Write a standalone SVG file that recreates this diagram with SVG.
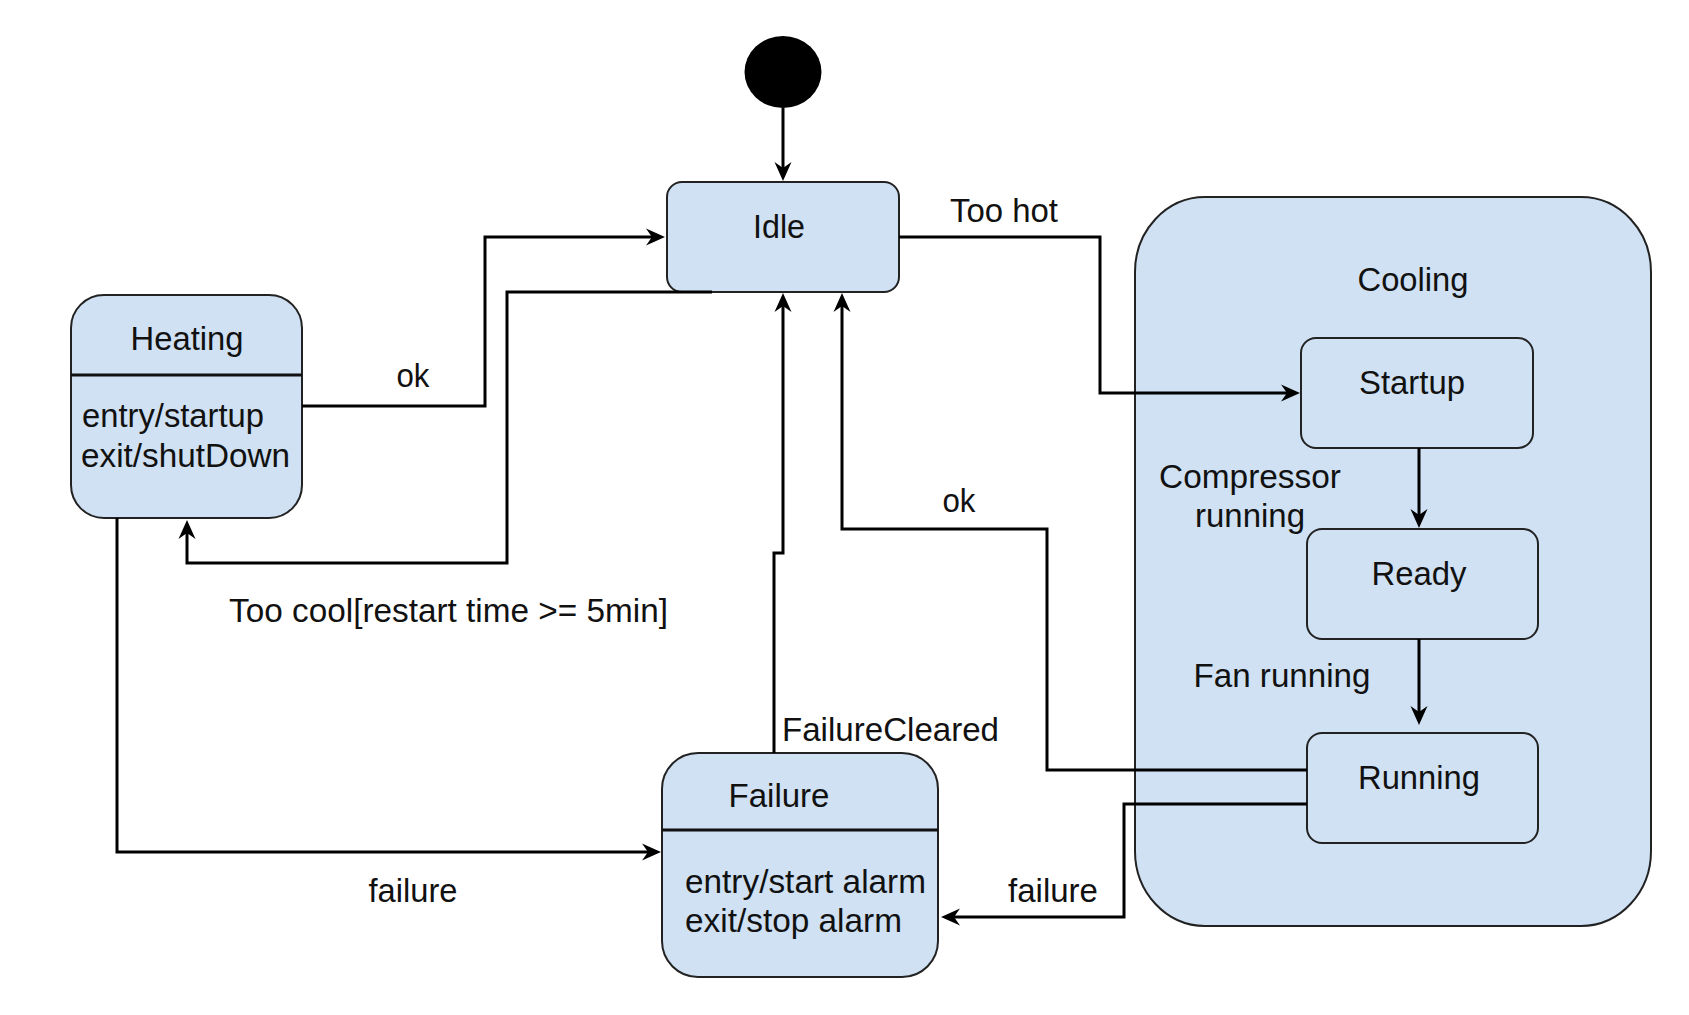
<svg xmlns="http://www.w3.org/2000/svg" width="1689" height="1015" viewBox="0 0 1689 1015">
  <style>
    .state { fill: #cfe1f3; stroke: #222; stroke-width: 2; }
    .div { stroke: #111; stroke-width: 3; }
    .conn { fill: none; stroke: #000; stroke-width: 3; stroke-linejoin: miter; marker-end: url(#arr); }
    text { font-family: "Liberation Sans", Arial, sans-serif; font-size: 33px; fill: #111; }
    .mid { text-anchor: middle; }
  </style>
  <defs>
    <marker id="arr" markerUnits="userSpaceOnUse" viewBox="-21 -10 23 20" markerWidth="23" markerHeight="20" refX="-6" refY="0" orient="auto">
      <path d="M0,0 L-19,-8.5 L-13,0 L-19,8.5 Z" fill="#000"/>
    </marker>
  </defs>
  <rect width="1689" height="1015" fill="#fff"/>

  <g id="cooling">
    <rect class="state" x="1135" y="197" width="516" height="729" rx="70" ry="75"/>
    <text class="mid" x="1413" y="291" textLength="111" lengthAdjust="spacingAndGlyphs">Cooling</text>
  </g>

  <g id="initial">
    <ellipse cx="783" cy="72" rx="38.5" ry="36" fill="#000"/>
  </g>

  <g id="idle">
    <rect class="state" x="667" y="182" width="232" height="110" rx="15"/>
    <text class="mid" x="779" y="238" textLength="52" lengthAdjust="spacingAndGlyphs">Idle</text>
  </g>

  <g id="heating">
    <rect class="state" x="71" y="295" width="231" height="223" rx="33"/>
    <line class="div" x1="71" y1="375" x2="302" y2="375"/>
    <text class="mid" x="187" y="350" textLength="113" lengthAdjust="spacingAndGlyphs">Heating</text>
    <text x="82" y="427" textLength="182" lengthAdjust="spacingAndGlyphs">entry/startup</text>
    <text x="81" y="467" textLength="209" lengthAdjust="spacingAndGlyphs">exit/shutDown</text>
  </g>

  <g id="failure">
    <rect class="state" x="662" y="753" width="276" height="224" rx="36"/>
    <line class="div" x1="662" y1="830" x2="938" y2="830"/>
    <text class="mid" x="779" y="807" textLength="101" lengthAdjust="spacingAndGlyphs">Failure</text>
    <text x="685" y="893" textLength="241" lengthAdjust="spacingAndGlyphs">entry/start alarm</text>
    <text x="685" y="932" textLength="217" lengthAdjust="spacingAndGlyphs">exit/stop alarm</text>
  </g>

  <g id="startup">
    <rect class="state" x="1301" y="338" width="232" height="110" rx="15"/>
    <text class="mid" x="1412" y="394" textLength="106" lengthAdjust="spacingAndGlyphs">Startup</text>
  </g>

  <g id="ready">
    <rect class="state" x="1307" y="529" width="231" height="110" rx="15"/>
    <text class="mid" x="1419" y="585" textLength="95" lengthAdjust="spacingAndGlyphs">Ready</text>
  </g>

  <g id="running">
    <rect class="state" x="1307" y="733" width="231" height="110" rx="15"/>
    <text class="mid" x="1419" y="789" textLength="122" lengthAdjust="spacingAndGlyphs">Running</text>
  </g>

  <g id="connectors">
    <path class="conn" d="M783,108 V175"/>
    <path class="conn" d="M302,406 H485 V237 H659"/>
    <path class="conn" d="M712,292 H507 V563 H187 V526"/>
    <path class="conn" d="M899,237 H1100 V393 H1294"/>
    <path class="conn" d="M1419,448 V522"/>
    <path class="conn" d="M1419,639 V719"/>
    <path class="conn" d="M1307,770 H1047 V529 H842 V299"/>
    <path class="conn" d="M1307,804 H1124 V917 H947"/>
    <path class="conn" d="M117,518 V852 H655"/>
    <path class="conn" d="M774,753 V553 H783 V299"/>
  </g>

  <g id="labels">
    <text class="mid" x="1004" y="222" textLength="108" lengthAdjust="spacingAndGlyphs">Too hot</text>
    <text class="mid" x="413" y="387" textLength="33" lengthAdjust="spacingAndGlyphs">ok</text>
    <text x="229" y="622" textLength="439" lengthAdjust="spacingAndGlyphs">Too cool[restart time &gt;= 5min]</text>
    <text class="mid" x="959" y="512" textLength="33" lengthAdjust="spacingAndGlyphs">ok</text>
    <text class="mid" x="1250" y="488" textLength="182" lengthAdjust="spacingAndGlyphs">Compressor</text>
    <text class="mid" x="1250" y="527" textLength="110" lengthAdjust="spacingAndGlyphs">running</text>
    <text class="mid" x="1282" y="687" textLength="177" lengthAdjust="spacingAndGlyphs">Fan running</text>
    <text x="782" y="741" textLength="217" lengthAdjust="spacingAndGlyphs">FailureCleared</text>
    <text class="mid" x="413" y="902" textLength="89" lengthAdjust="spacingAndGlyphs">failure</text>
    <text class="mid" x="1053" y="902" textLength="90" lengthAdjust="spacingAndGlyphs">failure</text>
  </g>
</svg>
